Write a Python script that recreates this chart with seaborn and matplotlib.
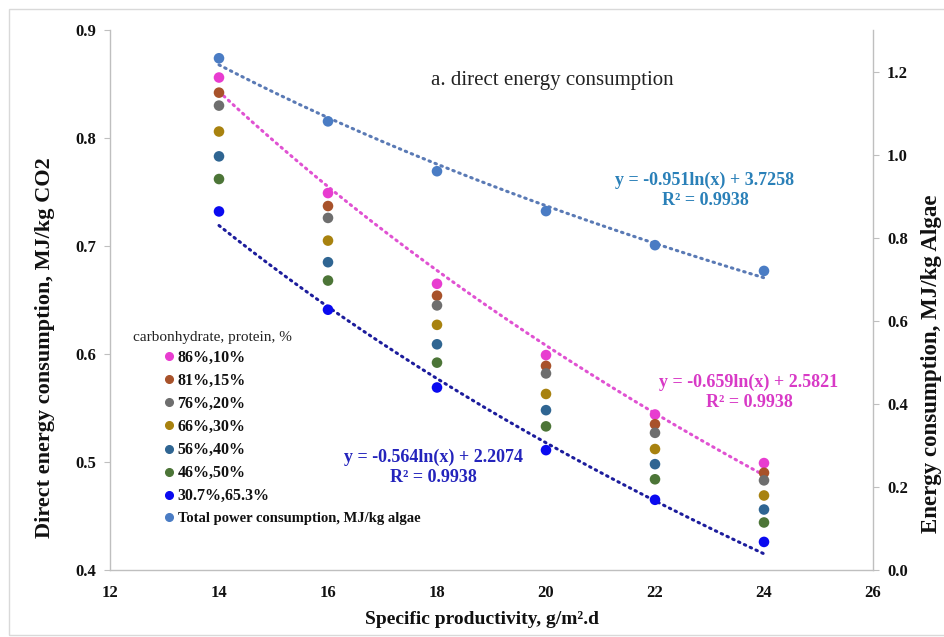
import numpy as np
import pandas as pd
import matplotlib
matplotlib.use("Agg")
import matplotlib.pyplot as plt
from matplotlib.lines import Line2D
from matplotlib.patches import Rectangle
import seaborn as sns

# ---------------- data ----------------
productivity = [14, 16, 18, 20, 22, 24]
compositions = ["86%,10%", "81%,15%", "76%,20%", "66%,30%", "56%,40%", "46%,50%", "30.7%,65.3%"]
c86 = [0.856, 0.749, 0.665, 0.599, 0.544, 0.499]
c81 = [0.842, 0.737, 0.654, 0.589, 0.535, 0.490]
c76 = [0.830, 0.726, 0.645, 0.582, 0.527, 0.483]
c66 = [0.806, 0.705, 0.627, 0.563, 0.512, 0.469]
c56 = [0.783, 0.685, 0.609, 0.548, 0.498, 0.456]
c46 = [0.762, 0.668, 0.592, 0.533, 0.484, 0.444]
c31 = [0.732, 0.641, 0.569, 0.511, 0.465, 0.426]
total_power = [1.232, 1.080, 0.960, 0.864, 0.782, 0.720]
total_label = "Total power consumption, MJ/kg algae"

# trend line equations shown on the chart: y = a*ln(x) + b
trend_total = (-0.951, 3.7258)
trend_86 = (-0.659, 2.5821)
trend_31 = (-0.564, 2.2074)
eq_total = "y = -0.951ln(x) + 3.7258\nR² = 0.9938"
eq_86 = "y = -0.659ln(x) + 2.5821\nR² = 0.9938"
eq_31 = "y = -0.564ln(x) + 2.2074\nR² = 0.9938"

x_ticks = [12, 14, 16, 18, 20, 22, 24, 26]
left_ticks = [0.4, 0.5, 0.6, 0.7, 0.8, 0.9]
right_ticks = [0.0, 0.2, 0.4, 0.6, 0.8, 1.0, 1.2]

colors = {
    "86%,10%": "#E83CD0",
    "81%,15%": "#A8522A",
    "76%,20%": "#6E6E6E",
    "66%,30%": "#A8820F",
    "56%,40%": "#2F6592",
    "46%,50%": "#4C7537",
    "30.7%,65.3%": "#0A0AF0",
}
total_color = "#4A7CC4"

# ---------------- style ----------------
sns.set_theme(style="white")
plt.rcParams["font.family"] = ["Liberation Serif", "DejaVu Serif"]

W, H = 944, 637
fig = plt.figure(figsize=(W / 100, H / 100), dpi=100)
L, R, T, B = 110, 873, 30, 570
ax = fig.add_axes([L / W, 1 - B / H, (R - L) / W, (B - T) / H])
ax2 = ax.twinx()

series = [c86, c81, c76, c66, c56, c46, c31]
df = pd.DataFrame({
    "productivity": productivity * len(compositions),
    "value": np.concatenate(series),
    "composition": np.repeat(compositions, len(productivity)),
})

sns.scatterplot(data=df, x="productivity", y="value", hue="composition",
                hue_order=compositions, palette=colors, s=58, edgecolor="none",
                legend=False, ax=ax, zorder=3)
sns.scatterplot(x=productivity, y=total_power, color=total_color, s=58,
                edgecolor="none", legend=False, ax=ax2, zorder=3)

xs = np.linspace(min(productivity), max(productivity), 200)
dot = dict(linestyle=(0, (0.5, 1.6)), linewidth=2.2, dash_capstyle="round")
ax.plot(xs, trend_86[0] * np.log(xs) + trend_86[1], color="#E052D2", zorder=2, **dot)
ax.plot(xs, trend_31[0] * np.log(xs) + trend_31[1], color="#1C1C9C", zorder=2, **dot)
ax2.plot(xs, trend_total[0] * np.log(xs) + trend_total[1], color="#5A7AB5", zorder=2, **dot)

# axes
ax.set_xlim(12, 26)
ax.set_ylim(0.4, 0.9)
ax2.set_ylim(0, 1.3)
ax.set_xticks(x_ticks)
ax.set_yticks(left_ticks)
ax2.set_yticks(right_ticks)
ax.set_xticklabels([str(v) for v in x_ticks])
ax.set_yticklabels([f"{v:.1f}" for v in left_ticks])
ax2.set_yticklabels([f"{v:.1f}" for v in right_ticks])
ax.set_xlabel("")
ax.set_ylabel("")
ax2.set_ylabel("")

spine_c = "#BFBFBF"
for a in (ax, ax2):
    for s in a.spines.values():
        s.set_visible(False)
ax.spines["left"].set_visible(True)
ax.spines["bottom"].set_visible(True)
ax2.spines["right"].set_visible(True)
for s in (ax.spines["left"], ax.spines["bottom"], ax2.spines["right"]):
    s.set_color(spine_c)
    s.set_linewidth(1.0)

ax.tick_params(axis="x", length=0, pad=11, labelsize=12, labelcolor="#111111")
ax.tick_params(axis="y", length=4, width=0.8, color=spine_c, pad=6, labelsize=12, labelcolor="#111111", left=True)
ax2.tick_params(axis="y", length=4, width=0.8, color=spine_c, pad=6, labelsize=12, labelcolor="#111111", right=True)
for lab in ax.get_xticklabels() + ax.get_yticklabels() + ax2.get_yticklabels():
    lab.set_fontweight("bold")

# axis titles
fig.text(45 / W, 1 - 348 / H, "Direct energy consumption, MJ/kg CO2", rotation=90,
         ha="center", va="center", fontsize=16, fontweight="bold", color="#111111")
fig.text(932 / W, 1 - 364 / H, "Energy consumption, MJ/kg Algae", rotation=90,
         ha="center", va="center", fontsize=16.5, fontweight="bold", color="#111111")
fig.text(482 / W, 1 - 620 / H, "Specific productivity, g/m².d",
         ha="center", va="center", fontsize=14, fontweight="bold", color="#111111")

# chart caption
fig.text(552 / W, 1 - 81 / H, "a. direct energy consumption", ha="center", va="center",
         fontsize=15, color="#222222")

# equations
eq_kw = dict(ha="center", va="center", multialignment="center", fontsize=13,
             fontweight="bold", linespacing=1.25)
fig.text(705 / W, 1 - 190 / H, eq_total, color="#2A80B8", **eq_kw)
fig.text(749 / W, 1 - 392 / H, eq_86, color="#D83AC6", **eq_kw)
fig.text(433 / W, 1 - 467 / H, eq_31, color="#2424BC", **eq_kw)

# legend
fig.text(133 / W, 1 - 337 / H, "carbonhydrate, protein, %", ha="left", va="center",
         fontsize=11, color="#222222")
handles = [Line2D([], [], marker="o", linestyle="", color=colors[c], markersize=5.5)
           for c in compositions]
handles.append(Line2D([], [], marker="o", linestyle="", color=total_color, markersize=5.5))
labels = compositions + [total_label]
leg = fig.legend(handles, labels, loc="upper left", bbox_to_anchor=(164 / W, 1 - 350 / H),
                 bbox_transform=fig.transFigure, frameon=False, borderpad=0,
                 borderaxespad=0, handlelength=0.6, handletextpad=0.25,
                 labelspacing=0.44, fontsize=11.5)
for t in leg.get_texts():
    t.set_fontweight("bold")
    t.set_color("#111111")
leg.get_texts()[-1].set_fontsize(10.5)

# outer chart border
fig.add_artist(Rectangle((9 / W, 2 / H), 1.2, 1 - 9 / H - 2 / H, transform=fig.transFigure,
                         fill=False, edgecolor="#D9D9D9", linewidth=1.0))

fig.savefig("out.png", dpi=100)
